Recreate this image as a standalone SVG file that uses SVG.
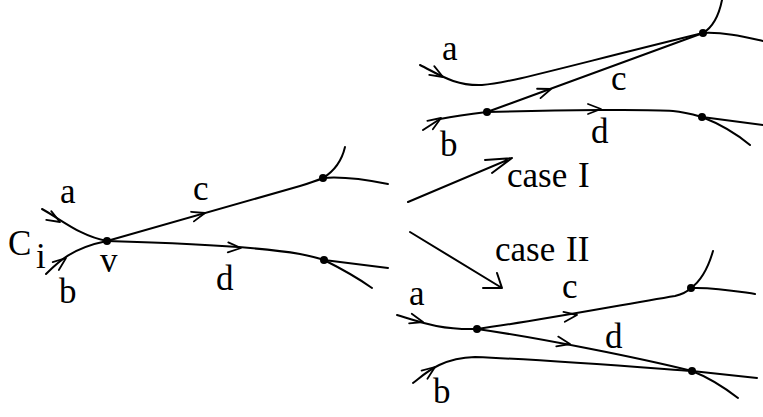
<svg xmlns="http://www.w3.org/2000/svg" xmlns:xlink="http://www.w3.org/1999/xlink" width="763" height="417" viewBox="0 0 763 417">
<style>
.e{fill:none;stroke:#000;stroke-width:2;stroke-linecap:round;stroke-linejoin:round}
.h{fill:none;stroke:#000;stroke-width:1.8;stroke-linecap:round;stroke-linejoin:round}
.t{font-family:"Liberation Serif","Times New Roman",serif;font-size:35px;fill:#000}
.n{fill:#000}
</style>
<defs>
<path id="ah" class="h" d="M-13,-5 L0,0 L-13,5"/>
</defs>
<rect width="763" height="417" fill="#fff"/>
<g id="connectors">
<!-- left diagram -->
<path class="e" d="M42,209 C62,220 80,236 107,241"/>
<path class="e" d="M46,274 C58,262 72,248 107,241"/>
<path class="e" d="M107,241 L300,186 C310,183 316,181 323,178"/>
<path class="e" d="M323,178 C336,170 342,160 345,147"/>
<path class="e" d="M323,178 C345,176 368,180 388,184"/>
<path class="e" d="M107,241 C180,243 260,247 300,254 C310,256 318,258 324,260 C340,268 358,278 372,288"/>
<path class="e" d="M324,260 L388,268"/>
<use href="#ah" transform="translate(60,222) rotate(30)"/>
<use href="#ah" transform="translate(66,258) rotate(-38)"/>
<use href="#ah" transform="translate(205,213) rotate(-16)"/>
<use href="#ah" transform="translate(241,248) rotate(3)"/>
<!-- case arrows -->
<path class="e" d="M408,202 L512,158 M485,160 L512,158 L492,173"/>
<path class="e" d="M410,232 L502,288 M483,288 L502,288 L497,273"/>
<!-- case I -->
<path class="e" d="M420,65 C440,75 455,86 482,85 C510,83 560,68 703,33"/>
<path class="e" d="M423,130 L440,119 C450,117 470,114 487,112"/>
<path class="e" d="M487,112 L703,33"/>
<path class="e" d="M487,112 C560,110 650,109 673,111 C685,112 695,115 702,117 C720,124 738,135 750,145"/>
<path class="e" d="M702,117 L763,125"/>
<path class="e" d="M703,33 C713,27 719,15 722,0"/>
<path class="e" d="M703,33 C725,32 745,37 763,41"/>
<use href="#ah" transform="translate(443,77) rotate(30)"/>
<use href="#ah" transform="translate(441,118) rotate(-33)"/>
<use href="#ah" transform="translate(551,89) rotate(-20)"/>
<use href="#ah" transform="translate(601,109) rotate(0)"/>
<!-- case II -->
<path class="e" d="M397,315 C420,322 440,330 477,329"/>
<path class="e" d="M477,329 C530,322 620,305 675,296 C683,294 688,291 691,288"/>
<path class="e" d="M691,288 C702,280 709,265 713,251"/>
<path class="e" d="M691,288 C715,287 735,291 755,294"/>
<path class="e" d="M477,329 C540,338 640,358 692,371 C710,378 725,388 738,398"/>
<path class="e" d="M413,383 C425,374 440,358 475,357 C550,360 650,368 692,371 L757,378"/>
<use href="#ah" transform="translate(423,322) rotate(15)"/>
<use href="#ah" transform="translate(577,315) rotate(-8)"/>
<use href="#ah" transform="translate(570,344) rotate(11)"/>
<use href="#ah" transform="translate(435,367) rotate(-36)"/>
</g>
<g id="node-v"><circle class="n" cx="107" cy="241" r="4"/></g>
<g id="node-left-upper"><circle class="n" cx="323" cy="178" r="4"/></g>
<g id="node-left-lower"><circle class="n" cx="324" cy="260" r="4"/></g>
<g id="node-I-v"><circle class="n" cx="487" cy="112" r="4"/></g>
<g id="node-I-upper"><circle class="n" cx="703" cy="33" r="4"/></g>
<g id="node-I-lower"><circle class="n" cx="702" cy="117" r="4"/></g>
<g id="node-II-v"><circle class="n" cx="477" cy="329" r="4"/></g>
<g id="node-II-upper"><circle class="n" cx="691" cy="288" r="4"/></g>
<g id="node-II-lower"><circle class="n" cx="692" cy="371" r="4"/></g>
<g id="labels">
<text class="t" x="60" y="203">a</text>
<text class="t" x="8" y="255" font-size="38">C</text>
<text class="t" x="36" y="268">i</text>
<text class="t" x="100" y="272">v</text>
<text class="t" x="59" y="303">b</text>
<text class="t" x="193" y="200">c</text>
<text class="t" x="216" y="290">d</text>
<text class="t" x="442" y="60">a</text>
<text class="t" x="611" y="90">c</text>
<text class="t" x="440" y="156">b</text>
<text class="t" x="591" y="143">d</text>
<text class="t" x="507" y="187" word-spacing="2">case I</text>
<text class="t" x="495" y="261" word-spacing="2">case II</text>
<text class="t" x="409" y="305">a</text>
<text class="t" x="562" y="298">c</text>
<text class="t" x="605" y="348">d</text>
<text class="t" x="433" y="403">b</text>
</g>
</svg>
